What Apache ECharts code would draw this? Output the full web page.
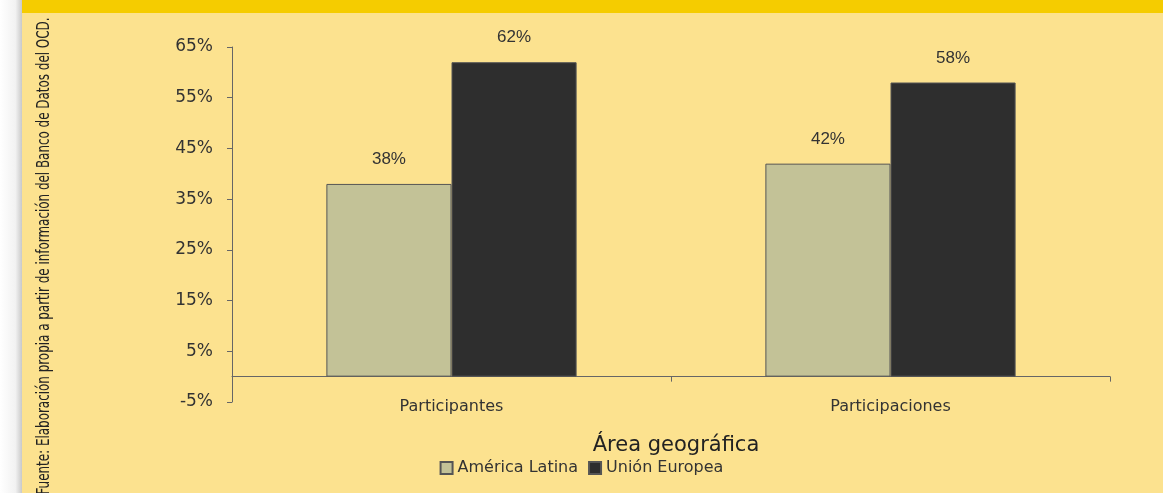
<!DOCTYPE html>
<html><head><meta charset="utf-8">
<script src="https://cdn.jsdelivr.net/npm/echarts@6/dist/echarts.min.js"></script>
<style>html,body{margin:0;padding:0;background:#fce28f;}#c{width:1163px;height:493px;}</style>
</head><body><div id="c"></div>
<script>
const categories = ['Participantes', 'Participaciones'];
const seriesNames = ['América Latina', 'Unión Europea'];
const americaLatina = [38, 42];
const unionEuropea = [62, 58];
const yTicks = { min: -5, max: 65, interval: 10 };

const chart = echarts.init(document.getElementById('c'), null, { renderer: 'canvas' });
const gothic = '"DejaVu Sans", sans-serif';
chart.setOption({
  backgroundColor: '#fce28f',
  animation: false,
  graphic: [
    { type: 'rect', left: 0, top: 0, shape: { width: 1163, height: 13 }, style: { fill: '#f5cc00' }, z: -1 },
    { type: 'rect', left: 0, top: 0, shape: { width: 22, height: 493 },
      style: { fill: new echarts.graphic.LinearGradient(0, 0, 1, 0, [
        { offset: 0, color: '#ffffff' }, { offset: 0.7, color: '#f2f2f2' }, { offset: 1, color: '#c9c9c9' }]) }, z: 5 },
    { type: 'text', x: 45, y: 256, rotation: Math.PI / 2, scaleX: 0.78, z: 6,
      style: { text: 'Fuente: Elaboración propia a partir de información del Banco de Datos del OCD.',
        font: '17px "Liberation Sans Narrow", "DejaVu Sans Condensed", "DejaVu Sans", sans-serif', fill: '#222',
        align: 'center', verticalAlign: 'middle' } }
  ],
  grid: { left: 232, right: 53, top: 47, bottom: 91 },
  title: { text: 'Área geográfica', left: 671, textAlign: 'center', top: 430,
    textStyle: { fontFamily: gothic, fontSize: 21, fontWeight: 'normal', color: '#222' } },
  legend: {
    data: seriesNames, left: 'center', top: 455, itemWidth: 12, itemHeight: 12, itemGap: 10, icon: 'rect',
    textStyle: { fontFamily: gothic, fontSize: 16, color: '#333' }
  },
  xAxis: {
    type: 'category', data: categories,
    axisLine: { onZero: true, lineStyle: { color: '#666', width: 1 } },
    axisTick: { show: true, length: 5, lineStyle: { color: '#666' } },
    axisLabel: { margin: -3, fontFamily: gothic, fontSize: 16, color: '#333' }
  },
  yAxis: {
    type: 'value', min: yTicks.min, max: yTicks.max, interval: yTicks.interval,
    axisLine: { show: true, lineStyle: { color: '#666', width: 1 } },
    axisTick: { show: true, length: 5, lineStyle: { color: '#666' } },
    splitLine: { show: false },
    axisLabel: { formatter: '{value}%', fontFamily: gothic, fontSize: 17, color: '#333', margin: 19 }
  },
  series: [
    { name: seriesNames[0], type: 'bar', data: americaLatina, barGap: '0%', barCategoryGap: '43%',
      itemStyle: { color: '#c3c297', borderColor: '#555', borderWidth: 1 },
      label: { show: true, position: 'top', distance: 16, formatter: '{c}%', fontFamily: '"Liberation Sans", Arial, sans-serif', fontSize: 17, color: '#333' } },
    { name: seriesNames[1], type: 'bar', data: unionEuropea,
      itemStyle: { color: '#2e2e2e', borderColor: '#555', borderWidth: 1 },
      label: { show: true, position: 'top', distance: 16, formatter: '{c}%', fontFamily: '"Liberation Sans", Arial, sans-serif', fontSize: 17, color: '#333' } }
  ]
});
</script></body></html>
